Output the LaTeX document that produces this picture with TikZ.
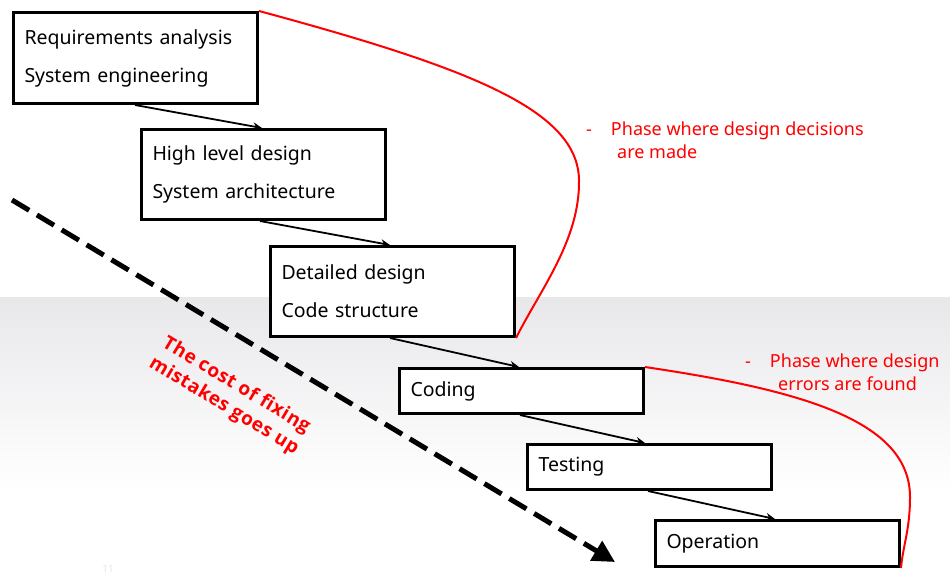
\documentclass[tikz,border=0pt]{standalone}
\usepackage{fontspec}
\setmainfont{Noto Sans}
\newfontfamily\costfont{Open Sans}[LetterSpace=3]
\usetikzlibrary{arrows.meta,calc}
\definecolor{bgtop}{HTML}{E8E8EB}
\definecolor{numgray}{HTML}{E6E6E6}
\tikzset{
  stage/.style={draw=black, fill=white, line width=3pt, anchor=north west, minimum width=244pt,
    text width=222pt, inner xsep=11pt, inner ysep=0pt, align=left,
    font=\fontsize{19.5}{38}\selectfont},
  flow/.style={draw=black, line width=1.8pt, -{Stealth[length=9pt,width=8pt]}},
  phase/.style={draw=red, line width=2pt},
  note/.style={text=red, anchor=base west, inner sep=0pt, font=\fontsize{18}{23}\selectfont},
}
\begin{document}
\begin{tikzpicture}[x=1pt,y=-1pt]
\useasboundingbox (0,0) rectangle (950,574);
\fill[white] (0,0) rectangle (950,574);
\shade[top color=bgtop, bottom color=white] (0,297) rectangle (950,490);
\node[text=numgray, font=\bfseries\fontsize{10}{12}\selectfont] (num) at (108,569) {11};

\node[stage, minimum height=91pt] (b1) at (12,11) {Requirements analysis\\System engineering};
\node[stage, minimum height=90pt] (b2) at (140,128) {High level design\\System architecture};
\node[stage, minimum height=90pt] (b3) at (269,245) {Detailed design\\Code structure};
\node[stage, minimum height=45pt] (b4) at (398,367) {Coding};
\node[stage, minimum height=45pt] (b5) at (526,443) {Testing};
\node[stage, minimum height=46pt] (b6) at (654,519) {Operation};

\draw[flow] ($(b1.south west)+(123,0)$) -- ($(b2.north west)+(122,0)$);
\draw[flow] ($(b2.south west)+(120,0)$) -- ($(b3.north west)+(121,0)$);
\draw[flow] ($(b3.south west)+(121,0)$) -- ($(b4.north west)+(121,0)$);
\draw[flow] ($(b4.south west)+(122,0)$) -- ($(b5.north west)+(119,0)$);
\draw[flow] ($(b5.south west)+(122,0)$) -- ($(b6.north west)+(121,0)$);

\coordinate (c1) at (579,180);
\coordinate (c2) at (910,497);
\draw[phase] (b1.north east) .. controls (470,68) and (578,110) .. (c1)
  .. controls (580,240) and (540,290) .. (b3.south east);
\draw[phase] (b4.north east) .. controls (800,390) and (910,420) .. (c2)
  .. controls (910,530) and (903,545) .. (b6.south east);

\node[note] (n1) at (586,135) {-\hspace{19pt}Phase where design decisions};
\node[note] (n1b) at (617,158) {are made};
\node[note] (n2) at (745,367) {-\hspace{19pt}Phase where design};
\node[note] (n2b) at (778,390) {errors are found};

\coordinate (d0) at (12,200);
\coordinate (d1) at (615,562);
\draw[line width=5pt, dash pattern=on 20pt off 9pt, -{Triangle[length=22pt,width=22pt]}] (d0) -- (d1);

\node[text=red, rotate=-31, align=center, font=\costfont\bfseries\fontsize{19}{24}\selectfont] (cost) at (230,396) {The cost of fixing\\mistakes goes up};
\end{tikzpicture}
\end{document}
